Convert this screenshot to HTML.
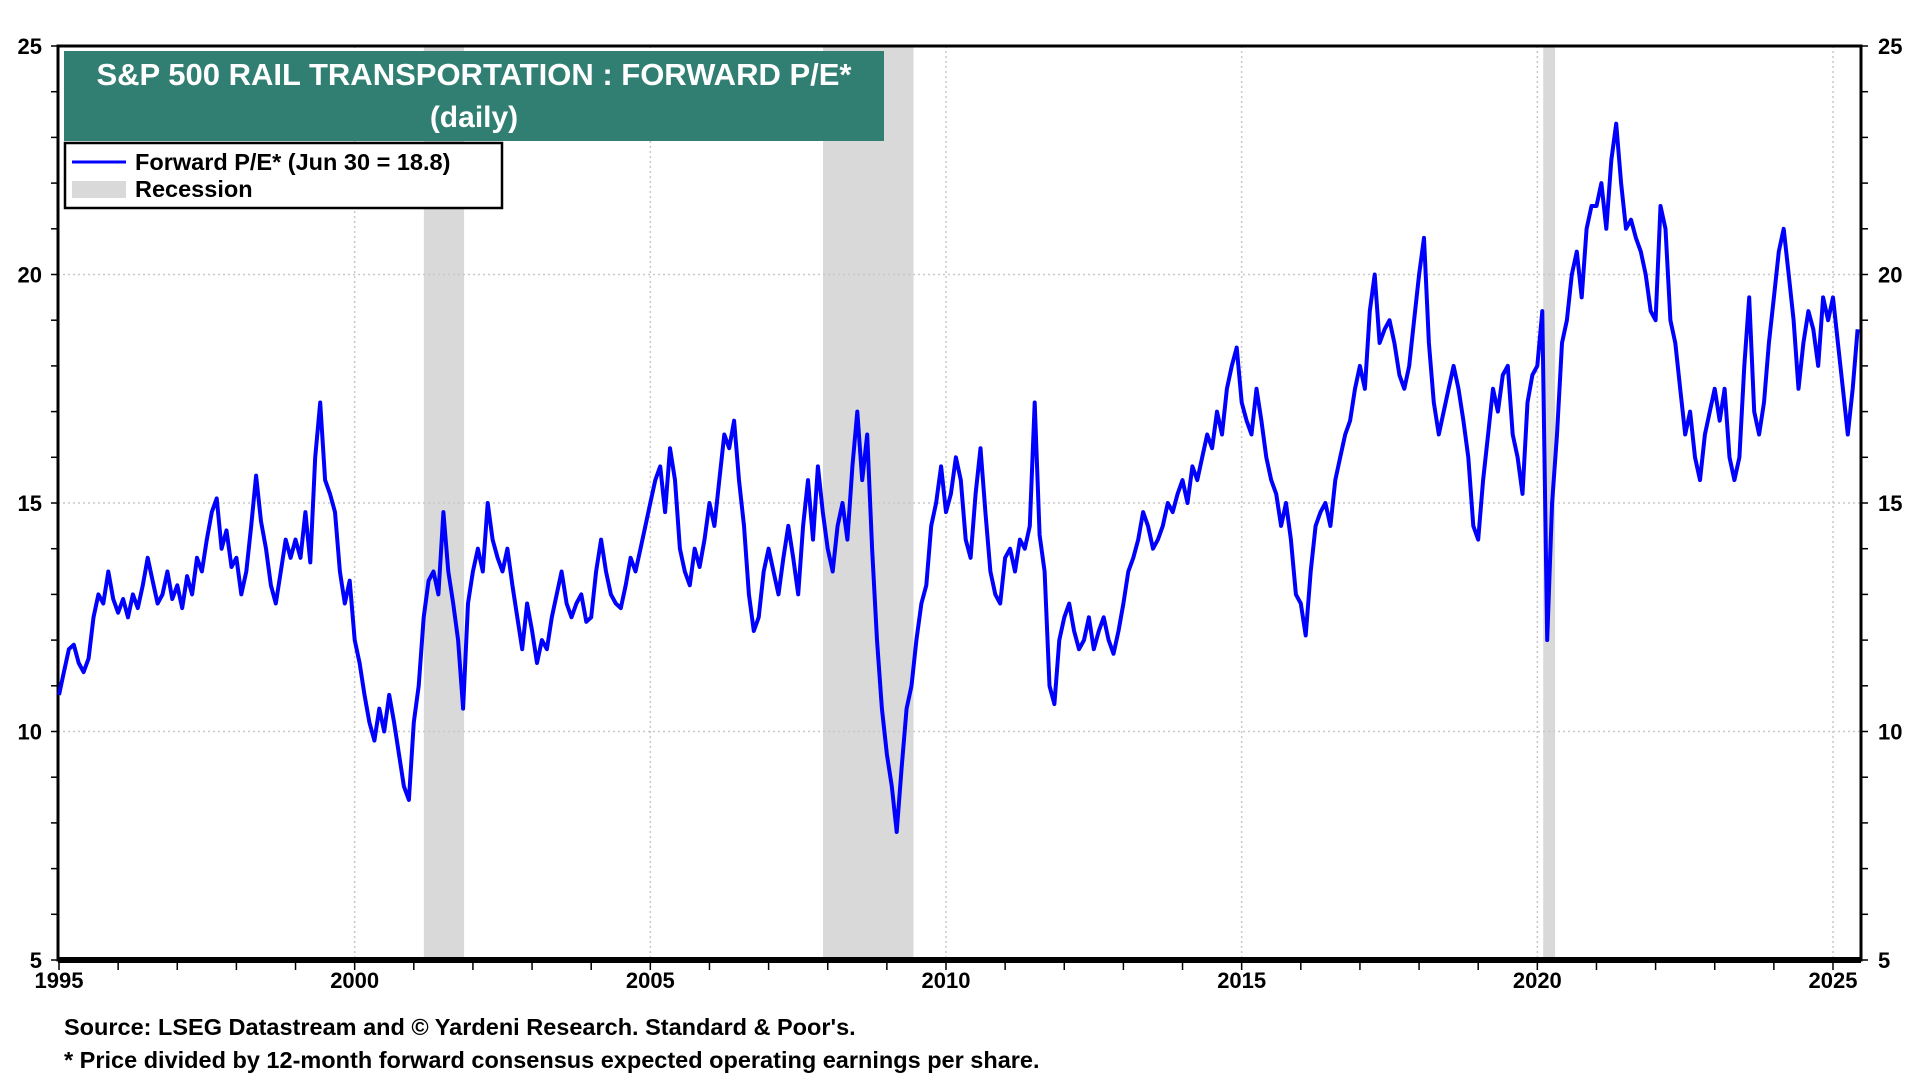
<!DOCTYPE html>
<html><head><meta charset="utf-8"><style>
html,body{margin:0;padding:0;background:#fff;width:1920px;height:1080px;overflow:hidden}
svg text{font-family:"Liberation Sans",Arial,sans-serif;font-weight:bold}
</style></head><body>
<svg id="chart" width="1920" height="1080">
<g id="rec"></g>
<g id="grid"></g>
<g id="axes"></g>
<path id="line" fill="none" stroke="#0000ff" stroke-width="4" stroke-linejoin="round"/>
<g>
<rect x="64" y="51" width="820" height="90" fill="#317f72"/>
<text x="474" y="85" fill="#fff" font-size="31" text-anchor="middle">S&amp;P 500 RAIL TRANSPORTATION : FORWARD P/E*</text>
<text x="474" y="127" fill="#fff" font-size="30" text-anchor="middle">(daily)</text>
</g>
<g>
<rect x="65" y="143" width="437" height="65" fill="#fff" stroke="#000" stroke-width="2.5"/>
<line x1="72" y1="162" x2="126" y2="162" stroke="#0000ff" stroke-width="3"/>
<text x="135" y="170" font-size="23.5">Forward P/E* (Jun 30 = 18.8)</text>
<rect x="72" y="181" width="54" height="17" fill="#d9d9d9"/>
<text x="135" y="197" font-size="23.5">Recession</text>
</g>
<text x="64" y="1035" font-size="23.5">Source: LSEG Datastream and © Yardeni Research. Standard &amp; Poor's.</text>
<text x="64" y="1068" font-size="23.5">* Price divided by 12-month forward consensus expected operating earnings per share.</text>
</svg>
<script>
const startYear = 1995;
const values = [
10.8,11.3,11.8,11.9,11.5,11.3,11.6,12.5,13.0,12.8,13.5,12.9,
12.6,12.9,12.5,13.0,12.7,13.2,13.8,13.3,12.8,13.0,13.5,12.9,
13.2,12.7,13.4,13.0,13.8,13.5,14.2,14.8,15.1,14.0,14.4,13.6,
13.8,13.0,13.5,14.5,15.6,14.6,14.0,13.2,12.8,13.5,14.2,13.8,
14.2,13.8,14.8,13.7,16.0,17.2,15.5,15.2,14.8,13.5,12.8,13.3,
12.0,11.5,10.8,10.2,9.8,10.5,10.0,10.8,10.2,9.5,8.8,8.5,
10.2,11.0,12.5,13.3,13.5,13.0,14.8,13.5,12.8,12.0,10.5,12.8,
13.5,14.0,13.5,15.0,14.2,13.8,13.5,14.0,13.2,12.5,11.8,12.8,
12.2,11.5,12.0,11.8,12.5,13.0,13.5,12.8,12.5,12.8,13.0,12.4,
12.5,13.5,14.2,13.5,13.0,12.8,12.7,13.2,13.8,13.5,14.0,14.5,
15.0,15.5,15.8,14.8,16.2,15.5,14.0,13.5,13.2,14.0,13.6,14.2,
15.0,14.5,15.5,16.5,16.2,16.8,15.5,14.5,13.0,12.2,12.5,13.5,
14.0,13.5,13.0,13.8,14.5,13.8,13.0,14.5,15.5,14.2,15.8,14.8,
14.0,13.5,14.5,15.0,14.2,15.8,17.0,15.5,16.5,14.0,12.0,10.5,
9.5,8.8,7.8,9.2,10.5,11.0,12.0,12.8,13.2,14.5,15.0,15.8,
14.8,15.2,16.0,15.5,14.2,13.8,15.2,16.2,14.8,13.5,13.0,12.8,
13.8,14.0,13.5,14.2,14.0,14.5,17.2,14.3,13.5,11.0,10.6,12.0,
12.5,12.8,12.2,11.8,12.0,12.5,11.8,12.2,12.5,12.0,11.7,12.2,
12.8,13.5,13.8,14.2,14.8,14.5,14.0,14.2,14.5,15.0,14.8,15.2,
15.5,15.0,15.8,15.5,16.0,16.5,16.2,17.0,16.5,17.5,18.0,18.4,
17.2,16.8,16.5,17.5,16.8,16.0,15.5,15.2,14.5,15.0,14.2,13.0,
12.8,12.1,13.5,14.5,14.8,15.0,14.5,15.5,16.0,16.5,16.8,17.5,
18.0,17.5,19.2,20.0,18.5,18.8,19.0,18.5,17.8,17.5,18.0,19.0,
20.0,20.8,18.5,17.2,16.5,17.0,17.5,18.0,17.5,16.8,16.0,14.5,
14.2,15.5,16.5,17.5,17.0,17.8,18.0,16.5,16.0,15.2,17.2,17.8,
18.0,19.2,12.0,15.0,16.5,18.5,19.0,20.0,20.5,19.5,21.0,21.5,
21.5,22.0,21.0,22.5,23.3,22.0,21.0,21.2,20.8,20.5,20.0,19.2,
19.0,21.5,21.0,19.0,18.5,17.5,16.5,17.0,16.0,15.5,16.5,17.0,
17.5,16.8,17.5,16.0,15.5,16.0,18.0,19.5,17.0,16.5,17.2,18.5,
19.5,20.5,21.0,20.0,19.0,17.5,18.5,19.2,18.8,18.0,19.5,19.0,
19.5,18.5,17.5,16.5,17.5,18.8
];
const recStarts = [2001.17, 2007.92, 2020.1];
const recEnds = [2001.85, 2009.45, 2020.3];
const yTicks = [5,10,15,20,25];
const xTicks = [1995,2000,2005,2010,2015,2020,2025];

const L=58,R=1861,T=46,B=960;
const X0=59, PPY=(1833-59)/30;
const x = t => X0 + (t-1995)*PPY;
const y = v => B - (v-5)*(B-T)/20;
const NS="http://www.w3.org/2000/svg";
function mk(tag,attrs,parent){const e=document.createElementNS(NS,tag);for(const k in attrs)e.setAttribute(k,attrs[k]);parent.appendChild(e);return e;}
const rec=document.getElementById('rec'),grid=document.getElementById('grid'),axes=document.getElementById('axes');
for(let i=0;i<recStarts.length;i++){
  const r=mk('rect',{x:x(recStarts[i]),y:T,width:x(recEnds[i])-x(recStarts[i]),height:B-T,fill:'#d9d9d9'},rec);
  
  
}
yTicks.forEach(v=>{
  if(v>5&&v<25){const g=mk('line',{x1:L,x2:R,y1:y(v),y2:y(v),stroke:'#c8c8c8','stroke-width':1.5,'stroke-dasharray':'2,3'},grid);
  
  }
  const t1=mk('text',{x:42,y:y(v)+8,'font-size':22,'text-anchor':'end'},axes);t1.textContent=v;
  
  
  const t2=mk('text',{x:1878,y:y(v)+8,'font-size':22},axes);t2.textContent=v;
  
  
});
for(let v=5;v<=25;v++){
  mk('line',{x1:L-7,x2:L,y1:y(v),y2:y(v),stroke:'#000','stroke-width':1.5},axes);
  mk('line',{x1:R,x2:R+7,y1:y(v),y2:y(v),stroke:'#000','stroke-width':1.5},axes);
}
xTicks.forEach(t=>{
  if(t>1995){const g=mk('line',{x1:x(t),x2:x(t),y1:T,y2:B,stroke:'#c8c8c8','stroke-width':1.5,'stroke-dasharray':'2,3'},grid);
  
  }
  const tl=mk('text',{x:x(t),y:988,'font-size':22,'text-anchor':'middle'},axes);tl.textContent=t;
  
  
});
for(let t=1995;t<=2025;t++) mk('line',{x1:x(t),x2:x(t),y1:B,y2:B+10,stroke:'#000','stroke-width':1.5},axes);
mk('rect',{x:L,y:T,width:R-L,height:B-T,fill:'none',stroke:'#000','stroke-width':3},axes);
mk('line',{x1:L,x2:R,y1:B,y2:B,stroke:'#000','stroke-width':6},axes);
let d='';
values.forEach((v,i)=>{const t=startYear+i/12;d+=(i?'L':'M')+x(t).toFixed(1)+','+y(v).toFixed(1);});
document.getElementById('line').setAttribute('d',d);
</script>
</body></html>
